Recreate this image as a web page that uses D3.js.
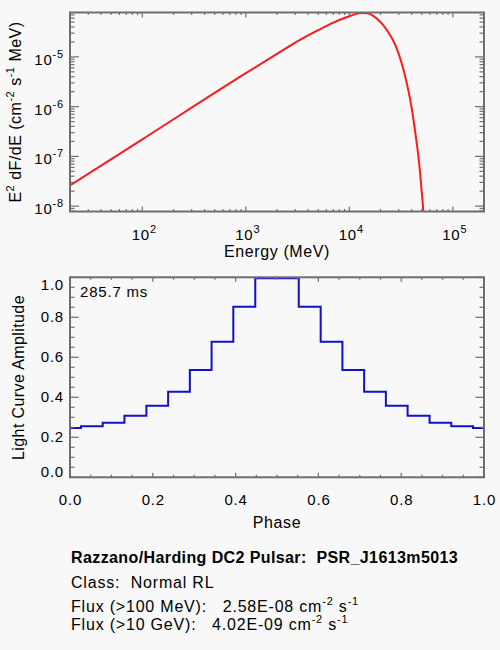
<!DOCTYPE html>
<html>
<head>
<meta charset="utf-8">
<script src="https://cdn.jsdelivr.net/npm/d3@7"></script>
<style>
  html, body { margin: 0; padding: 0; background: #f8f8f8; }
  svg { display: block; }
  text { font-family: "Liberation Sans", Arial, Helvetica, sans-serif; fill: #000; }
</style>
</head>
<body>
<script>
// ---------- data ----------
// Spectrum (E^2 dF/dE)
const energyMeV = [20, 100, 1000, 2000, 3370, 4890, 7080, 10280, 12830, 14900, 18620, 23270, 28000, 32500, 36300, 40600, 43700, 47100, 49700, 51900, 53500];
const e2dfde    = [2.6e-8, 2.2e-7, 4.7e-6, 1.15e-5, 2.22e-5, 3.36e-5, 4.92e-5, 6.7e-5, 7.6e-5, 7.5e-5, 5.75e-5, 3.36e-5, 1.68e-5, 6.7e-6, 2.67e-6, 7.8e-7, 2.67e-7, 7.8e-8, 2.29e-8, 7.8e-9, 3.0e-9];
const energyTicks = [100, 1000, 10000, 100000];
const fluxTicks   = [1e-8, 1e-7, 1e-6, 1e-5];

// Light curve
const phaseBins = [0.000, 0.053, 0.105, 0.158, 0.211, 0.263, 0.316, 0.368, 0.421, 0.474, 0.526, 0.579, 0.632, 0.684, 0.737, 0.789, 0.842, 0.895, 0.947, 1.000];
const amplitude = [0.246, 0.255, 0.273, 0.308, 0.358, 0.428, 0.537, 0.678, 0.853, 0.995, 0.995, 0.853, 0.678, 0.537, 0.428, 0.358, 0.308, 0.273, 0.255, 0.246];
const phaseTicks = [0.0, 0.2, 0.4, 0.6, 0.8, 1.0];
const ampTicks   = [0.0, 0.2, 0.4, 0.6, 0.8, 1.0];

const periodLabel = "285.7 ms";
const pulsarTitle = "Razzano/Harding DC2 Pulsar:  PSR_J1613m5013";
const pulsarClass = "Class:  Normal RL";
const flux100 = "2.58E-08";
const flux10g = "4.02E-09";

// ---------- layout ----------
const W = 500, H = 650;
const frameCol = "#6e6e6e";
const svg = d3.select("body").append("svg").attr("width", W).attr("height", H);
svg.append("rect").attr("width", W).attr("height", H).attr("fill", "#f8f8f8");

const L = 70, R = 484;
const top1 = 12.5, bot1 = 211.5;
const top2 = 277.3, bot2 = 477.3;

// ---------- top: spectrum ----------
const x1 = d3.scaleLog().domain([20, 2e5]).range([L, R]);
const y1 = d3.scaleLog().domain([7.8e-9, 7.8e-5]).range([bot1, top1]);

svg.append("clipPath").attr("id", "clip1").append("rect")
  .attr("x", L).attr("y", top1).attr("width", R - L).attr("height", bot1 - top1);

const g1 = svg.append("g");
const specData = energyMeV.map((e, i) => [e, e2dfde[i]]);
g1.append("path")
  .datum(specData)
  .attr("clip-path", "url(#clip1)")
  .attr("fill", "none")
  .attr("stroke", "#ff1a1a")
  .attr("stroke-width", 2)
  .attr("d", d3.line().x(d => x1(d[0])).y(d => y1(d[1])).curve(d3.curveMonotoneX));

function logMinor(domain) {
  const out = [];
  const lo = Math.floor(Math.log10(domain[0])), hi = Math.ceil(Math.log10(domain[1]));
  for (let p = lo; p <= hi; p++) for (let m = 1; m <= 9; m++) {
    const v = m * Math.pow(10, p);
    if (v >= domain[0] && v <= domain[1]) out.push({v, major: m === 1});
  }
  return out;
}
const tickG = svg.append("g").attr("stroke", frameCol).attr("stroke-width", 1.2);
// x ticks top chart
logMinor(x1.domain()).forEach(t => {
  const xx = x1(t.v), len = t.major ? 5 : 2.5;
  tickG.append("line").attr("x1", xx).attr("x2", xx).attr("y1", bot1).attr("y2", bot1 - len);
  tickG.append("line").attr("x1", xx).attr("x2", xx).attr("y1", top1).attr("y2", top1 + len);
});
logMinor(y1.domain()).forEach(t => {
  const yy = y1(t.v), len = t.major ? 9 : 4.5;
  tickG.append("line").attr("x1", L).attr("x2", L + len).attr("y1", yy).attr("y2", yy);
  tickG.append("line").attr("x1", R).attr("x2", R - len).attr("y1", yy).attr("y2", yy);
});
svg.append("rect").attr("x", L).attr("y", top1).attr("width", R - L).attr("height", bot1 - top1)
  .attr("fill", "none").attr("stroke", frameCol).attr("stroke-width", 2);

const tickFont = 15;
energyTicks.forEach(v => {
  const t = svg.append("text").attr("x", x1(v) + 2).attr("y", 240)
    .attr("text-anchor", "middle").attr("font-size", tickFont).attr("letter-spacing", 0.8);
  t.append("tspan").text("10");
  t.append("tspan").attr("font-size", 11).attr("dy", -7).text(String(Math.round(Math.log10(v))));
});
fluxTicks.forEach(v => {
  const t = svg.append("text").attr("x", 64).attr("y", y1(v) + 8)
    .attr("text-anchor", "end").attr("font-size", tickFont).attr("letter-spacing", 0.8);
  t.append("tspan").text("10");
  t.append("tspan").attr("font-size", 11).attr("dy", -7).text(String(Math.round(Math.log10(v))));
});
svg.append("text").attr("x", 277).attr("y", 257).attr("text-anchor", "middle")
  .attr("font-size", 16).attr("letter-spacing", 0.6).text("Energy (MeV)");

{
  const t = svg.append("text").attr("transform", "translate(21,112) rotate(-90)")
    .attr("text-anchor", "middle").attr("font-size", 16).attr("letter-spacing", 0.5);
  t.append("tspan").text("E");
  t.append("tspan").attr("font-size", 11).attr("dy", -7).text("2");
  t.append("tspan").attr("dy", 7).text(" dF/dE (cm");
  t.append("tspan").attr("font-size", 11).attr("dy", -7).text("-2");
  t.append("tspan").attr("dy", 7).text(" s");
  t.append("tspan").attr("font-size", 11).attr("dy", -7).text("-1");
  t.append("tspan").attr("dy", 7).text(" MeV)");
}

// ---------- bottom: light curve ----------
const x2 = d3.scaleLinear().domain([0, 1]).range([L, R]);
const y2 = d3.scaleLinear().domain([0, 1]).range([bot2, top2]);
const lcData = phaseBins.map((p, i) => [p, amplitude[i]]);
svg.append("path")
  .datum(lcData)
  .attr("fill", "none")
  .attr("stroke", "#1010cc")
  .attr("stroke-width", 2)
  .attr("d", d3.line().x(d => x2(d[0])).y(d => y2(d[1])).curve(d3.curveStep));

const tickG2 = svg.append("g").attr("stroke", frameCol).attr("stroke-width", 1.2);
d3.range(0, 1.0001, 0.05).forEach((v, i) => {
  const major = i % 4 === 0;
  const xx = x2(v), lx = major ? 4.5 : 2.5;
  tickG2.append("line").attr("x1", xx).attr("x2", xx).attr("y1", bot2).attr("y2", bot2 - lx);
  tickG2.append("line").attr("x1", xx).attr("x2", xx).attr("y1", top2).attr("y2", top2 + lx);
  const yy = y2(v), ly = major ? 8.5 : 4.5;
  tickG2.append("line").attr("x1", L).attr("x2", L + ly).attr("y1", yy).attr("y2", yy);
  tickG2.append("line").attr("x1", R).attr("x2", R - ly).attr("y1", yy).attr("y2", yy);
});
svg.append("rect").attr("x", L).attr("y", top2).attr("width", R - L).attr("height", bot2 - top2)
  .attr("fill", "none").attr("stroke", frameCol).attr("stroke-width", 2);

ampTicks.forEach(v => {
  const shift = v === 1 ? 7.7 : (v === 0 ? -5.6 : 0);
  svg.append("text").attr("x", 64).attr("y", y2(v) + 5 + shift)
    .attr("text-anchor", "end").attr("font-size", tickFont).attr("letter-spacing", 0.8)
    .text(d3.format(".1f")(v));
});
phaseTicks.forEach(v => {
  svg.append("text").attr("x", x2(v) + 0.5).attr("y", 505)
    .attr("text-anchor", "middle").attr("font-size", tickFont).attr("letter-spacing", 0.8)
    .text(d3.format(".1f")(v));
});
svg.append("text").attr("x", 277).attr("y", 528).attr("text-anchor", "middle")
  .attr("font-size", 16).attr("letter-spacing", 0.6).text("Phase");
svg.append("text").attr("transform", "translate(24,377.5) rotate(-90)")
  .attr("text-anchor", "middle").attr("font-size", 16).attr("letter-spacing", 0.4)
  .text("Light Curve Amplitude");
svg.append("text").attr("x", 80).attr("y", 297)
  .attr("font-size", 15).attr("letter-spacing", 0.8).text(periodLabel);

// ---------- info text ----------
svg.append("text").attr("x", 71).attr("y", 563).attr("font-size", 16)
  .attr("font-weight", "bold").attr("letter-spacing", 0.4).attr("xml:space", "preserve")
  .style("white-space", "pre").text(pulsarTitle);
svg.append("text").attr("x", 71).attr("y", 587.5).attr("font-size", 16)
  .attr("letter-spacing", 0.8).style("white-space", "pre").text(pulsarClass);

function fluxLine(y, label, val) {
  const t = svg.append("text").attr("x", 71).attr("y", y).attr("font-size", 16)
    .attr("letter-spacing", 0.8).style("white-space", "pre");
  t.append("tspan").text(label + "   " + val + " cm");
  t.append("tspan").attr("font-size", 11).attr("dy", -7).text("-2");
  t.append("tspan").attr("dy", 7).text(" s");
  t.append("tspan").attr("font-size", 11).attr("dy", -7).text("-1");
}
fluxLine(611.5, "Flux (>100 MeV):", flux100);
fluxLine(630, "Flux (>10 GeV):", flux10g);
</script>
</body>
</html>
